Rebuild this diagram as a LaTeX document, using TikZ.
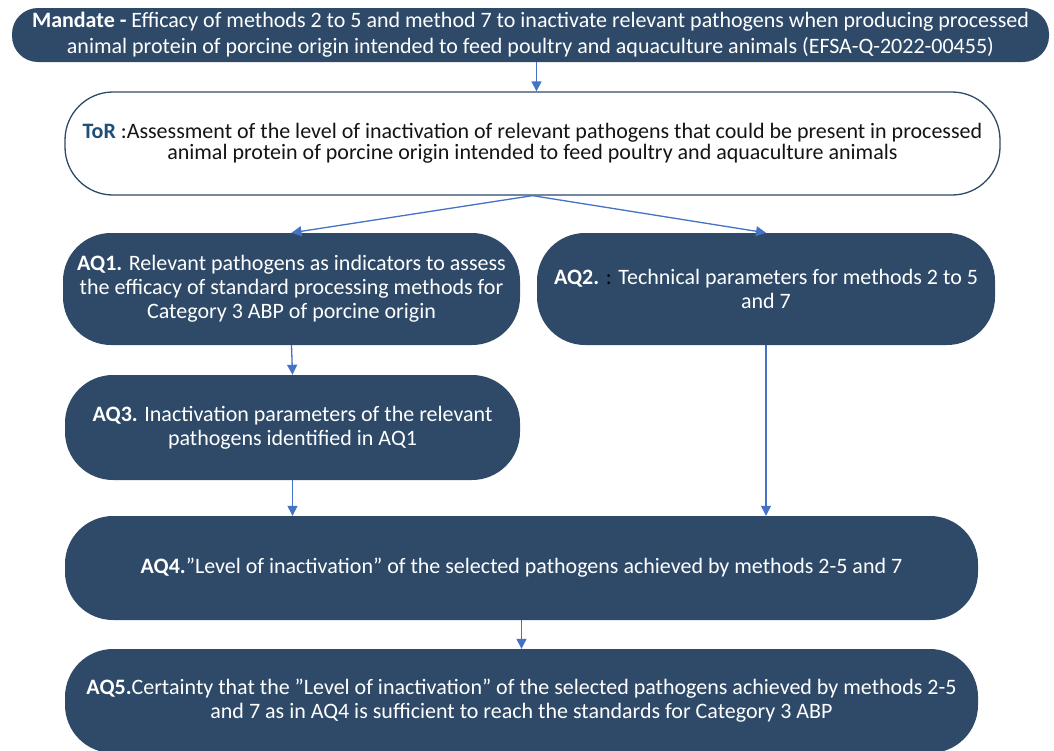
\documentclass[tikz,border=0pt]{standalone}
\usepackage{fontspec}
\setmainfont{Carlito}
\usetikzlibrary{arrows.meta,calc}
\definecolor{boxfill}{RGB}{46,74,104}
\definecolor{arrowblue}{RGB}{68,114,196}
\definecolor{torblue}{RGB}{31,78,121}
\definecolor{textgray}{RGB}{20,20,20}
\tikzset{
  darkbox/.style={draw=none, fill=boxfill, text=white, rounded corners=#1, align=center, inner sep=0pt},
  darkbox/.default=48pt,
  lightbox/.style={draw=boxfill, line width=1.3pt, fill=white, text=textgray, rounded corners=48pt, align=center, inner sep=0pt},
  arr/.style={draw=arrowblue, line width=1.3pt, -{Triangle[length=10pt,width=10pt]}},
  txt/.style={font=\fontsize{22}{24}\selectfont}
}
\begin{document}
\begin{tikzpicture}[x=1pt,y=1pt]
\useasboundingbox (0,0) rectangle (1054,-750);
\clip (0,0) rectangle (1054,-750);

\node[darkbox=26pt, minimum width=1037pt, minimum height=54pt, font=\fontsize{22}{26}\selectfont] (mandate) at (530.5,-35)
  {\textbf{Mandate -} Efficacy of methods 2 to 5 and method 7 to inactivate relevant pathogens when producing processed\\animal protein of porcine origin intended to feed poultry and aquaculture animals (EFSA-Q-2022-00455)};

\node[lightbox, minimum width=935pt, minimum height=103pt, font=\fontsize{22}{21}\selectfont] (tor) at (532.5,-143.5)
  {\textcolor{torblue}{\textbf{ToR}} :Assessment of the level of inactivation of relevant pathogens that could be present in processed\\animal protein of porcine origin intended to feed poultry and aquaculture animals};

\node[darkbox, txt, minimum width=457pt, minimum height=112pt] (aq1) at (291.5,-289)
  {\textbf{AQ1.} Relevant pathogens as indicators to assess\\the efficacy of standard processing methods for\\Category 3 ABP of porcine origin};

\node[darkbox, txt, minimum width=458pt, minimum height=112pt] (aq2) at (766,-289)
  {\textbf{AQ2.} \textcolor{black}{:} Technical parameters for methods 2 to 5\\and 7};

\node[darkbox, txt, minimum width=455pt, minimum height=105pt] (aq3) at (292.5,-427.5)
  {\textbf{AQ3.} Inactivation parameters of the relevant\\pathogens identified in AQ1};

\node[darkbox, txt, minimum width=913pt, minimum height=104pt] (aq4) at (521.5,-568)
  {\textbf{AQ4.}”Level of inactivation” of the selected pathogens achieved by methods 2-5 and 7};

\node[darkbox, txt, minimum width=913pt, minimum height=104pt] (aq5) at (521.5,-701)
  {\textbf{AQ5.}Certainty that the ”Level of inactivation” of the selected pathogens achieved by methods 2-5\\and 7 as in AQ4 is sufficient to reach the standards for Category 3 ABP};

\draw[arr] ([xshift=6pt]mandate.south) -- ([xshift=6pt]mandate.south |- tor.north);
\draw[arr] (tor.south) -- (aq1.north);
\draw[arr] (tor.south) -- (aq2.north);
\draw[arr] (aq1.south) -- (aq3.north);
\draw[arr] (aq3.south) -- (aq3.south |- aq4.north);
\draw[arr] (aq2.south) -- (aq2.south |- aq4.north);
\draw[arr] (aq4.south) -- (aq5.north);
\end{tikzpicture}
\end{document}
